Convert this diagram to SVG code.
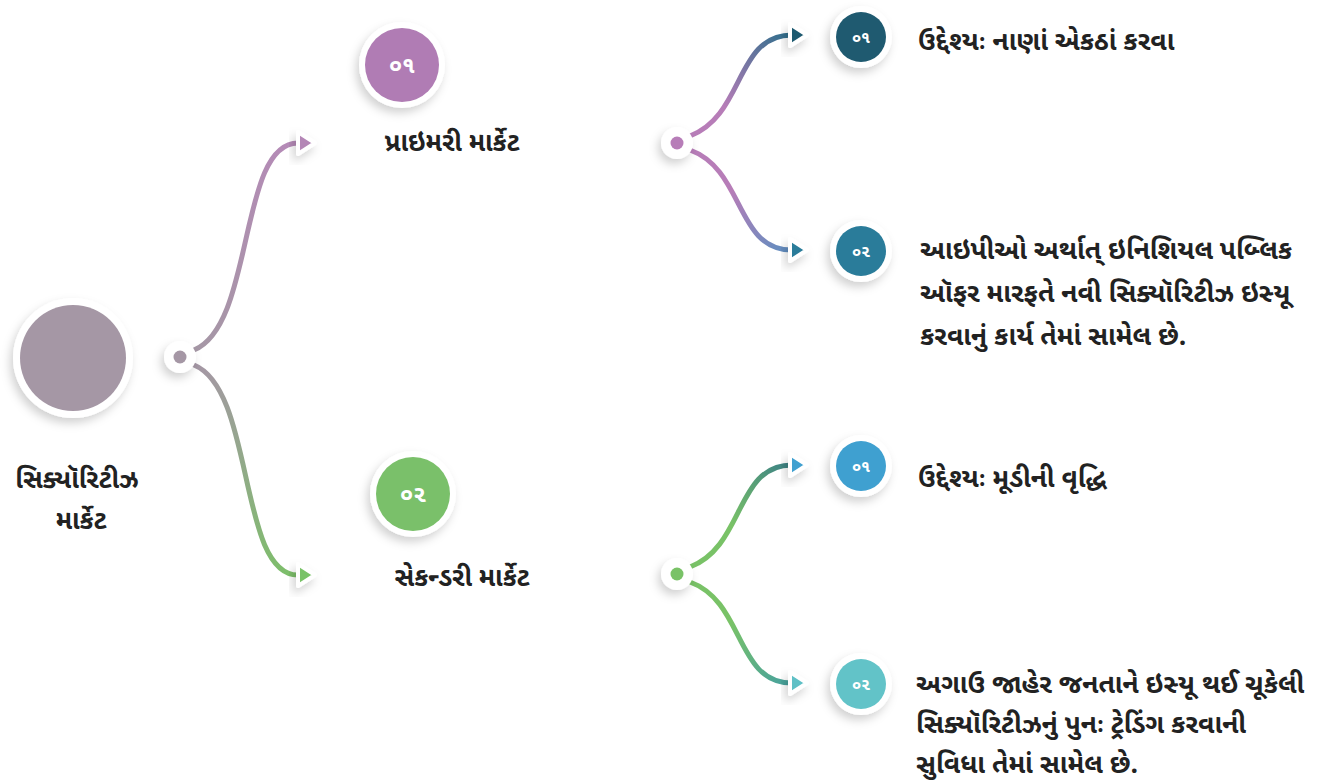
<svg xmlns="http://www.w3.org/2000/svg" width="1319" height="783" viewBox="0 0 1319 783">
<style>
text{font-family:"Noto Sans Gujarati","Noto Sans",sans-serif;font-weight:bold;fill:#222}
.t{font-size:26.5px}
.h{font-size:26px;text-anchor:middle}
.n{font-size:23px;fill:#fff;text-anchor:middle}
.ns{font-size:16px;fill:#fff;text-anchor:middle}
.c{fill:none;stroke-width:5;stroke-linecap:round}
.w{fill:#fff}
.arr{stroke:#fff;stroke-width:4;stroke-linejoin:round}
</style>
<defs>
<filter id="sh" x="-50%" y="-50%" width="200%" height="200%"><feDropShadow dx="-3" dy="5" stdDeviation="5" flood-color="#000" flood-opacity="0.18"/></filter>
<linearGradient id="g1" gradientUnits="userSpaceOnUse" x1="195" y1="350" x2="300" y2="143"><stop offset="0" stop-color="#a597a5"/><stop offset="1" stop-color="#b58ab7"/></linearGradient>
<linearGradient id="g2" gradientUnits="userSpaceOnUse" x1="195" y1="365" x2="300" y2="575"><stop offset="0" stop-color="#a597a5"/><stop offset="1" stop-color="#7cbf69"/></linearGradient>
<linearGradient id="g3" gradientUnits="userSpaceOnUse" x1="690" y1="135" x2="795" y2="35"><stop offset="0.3" stop-color="#b77db8"/><stop offset="1" stop-color="#2a6e8a"/></linearGradient>
<linearGradient id="g4" gradientUnits="userSpaceOnUse" x1="690" y1="150" x2="795" y2="250"><stop offset="0.4" stop-color="#b77db8"/><stop offset="1" stop-color="#5b8fc0"/></linearGradient>
<linearGradient id="g5" gradientUnits="userSpaceOnUse" x1="690" y1="566" x2="795" y2="465"><stop offset="0.4" stop-color="#79c267"/><stop offset="1" stop-color="#3a7f86"/></linearGradient>
<linearGradient id="g6" gradientUnits="userSpaceOnUse" x1="690" y1="582" x2="795" y2="683"><stop offset="0.4" stop-color="#79c267"/><stop offset="1" stop-color="#45a0a0"/></linearGradient>
</defs>
<g id="connectors">
<path class="c" stroke="url(#g1)" d="M194 350 C 255 325, 238 143, 298 143"/>
<path class="c" stroke="url(#g2)" d="M194 365 C 255 390, 238 575, 298 575"/>
<path class="c" stroke="url(#g3)" d="M690 136 C 745 115, 735 35, 792 35"/>
<path class="c" stroke="url(#g4)" d="M690 150 C 745 170, 735 250, 792 250"/>
<path class="c" stroke="url(#g5)" d="M690 567 C 745 546, 735 465, 792 465"/>
<path class="c" stroke="url(#g6)" d="M690 582 C 745 602, 735 683, 792 683"/>
<polygon class="arr" fill="#b486b6" points="298,132 315,143 298,154" filter="url(#sh)"/>
<polygon class="arr" fill="#79c267" points="298,564 315,575 298,586" filter="url(#sh)"/>
<polygon class="arr" fill="#1f5a70" points="790,24 807,35 790,46" filter="url(#sh)"/>
<polygon class="arr" fill="#2a7c9a" points="790,239 807,250 790,261" filter="url(#sh)"/>
<polygon class="arr" fill="#3fa0d0" points="790,454 807,465 790,476" filter="url(#sh)"/>
<polygon class="arr" fill="#5fc0c6" points="790,672 807,683 790,694" filter="url(#sh)"/>
</g>
<g id="root">
<circle class="w" cx="73" cy="358" r="60" filter="url(#sh)"/>
<circle cx="73" cy="358" r="53" fill="#a597a5"/>
<text class="h" x="77" y="488">સિક્યૉરિટીઝ</text>
<text class="h" x="81" y="529">માર્કેટ</text>
</g>
<g id="hub-root">
<circle class="w" cx="180" cy="357" r="16" filter="url(#sh)"/>
<circle cx="180" cy="357" r="6.5" fill="#a597a5"/>
</g>
<g id="primary">
<circle class="w" cx="402" cy="65" r="43" filter="url(#sh)"/>
<circle cx="402" cy="65" r="37" fill="#b07cb4"/>
<text class="n" x="402" y="73">૦૧</text>
<text class="h" x="452" y="151">પ્રાઇમરી માર્કેટ</text>
</g>
<g id="secondary">
<circle class="w" cx="413" cy="494" r="43" filter="url(#sh)"/>
<circle cx="413" cy="494" r="37" fill="#7ac06a"/>
<text class="n" x="413" y="502">૦૨</text>
<text class="h" x="462" y="586">સેકન્ડરી માર્કેટ</text>
</g>
<g id="hub-primary">
<circle class="w" cx="677" cy="143" r="16" filter="url(#sh)"/>
<circle cx="677" cy="143" r="6.5" fill="#b77db8"/>
</g>
<g id="hub-secondary">
<circle class="w" cx="677" cy="574" r="16" filter="url(#sh)"/>
<circle cx="677" cy="574" r="6.5" fill="#79c267"/>
</g>
<g id="p1">
<circle class="w" cx="861" cy="37" r="31" filter="url(#sh)"/>
<circle cx="861" cy="37" r="25" fill="#1f5a70"/>
<text class="ns" x="861" y="43">૦૧</text>
<text class="t" x="918" y="50">ઉદ્દેશ્યઃ નાણાં એકઠાં કરવા</text>
</g>
<g id="p2">
<circle class="w" cx="861" cy="251" r="31" filter="url(#sh)"/>
<circle cx="861" cy="251" r="25" fill="#2a7c9a"/>
<text class="ns" x="861" y="257">૦૨</text>
<text class="t" x="920" y="259">આઇપીઓ અર્થાત્ ઇનિશિયલ પબ્લિક</text>
<text class="t" x="920" y="302">ઑફર મારફતે નવી સિક્યૉરિટીઝ ઇસ્યૂ</text>
<text class="t" x="920" y="345">કરવાનું કાર્ય તેમાં સામેલ છે.</text>
</g>
<g id="s1">
<circle class="w" cx="861" cy="466" r="31" filter="url(#sh)"/>
<circle cx="861" cy="466" r="25" fill="#3fa0d0"/>
<text class="ns" x="861" y="472">૦૧</text>
<text class="t" x="918" y="487">ઉદ્દેશ્યઃ મૂડીની વૃદ્ધિ</text>
</g>
<g id="s2">
<circle class="w" cx="861" cy="684" r="31" filter="url(#sh)"/>
<circle cx="861" cy="684" r="25" fill="#62c3c8"/>
<text class="ns" x="861" y="690">૦૨</text>
<text class="t" x="916" y="693">અગાઉ જાહેર જનતાને ઇસ્યૂ થઈ ચૂકેલી</text>
<text class="t" x="916" y="733">સિક્યૉરિટીઝનું પુનઃ ટ્રેડિંગ કરવાની</text>
<text class="t" x="916" y="773">સુવિધા તેમાં સામેલ છે.</text>
</g>
</svg>
